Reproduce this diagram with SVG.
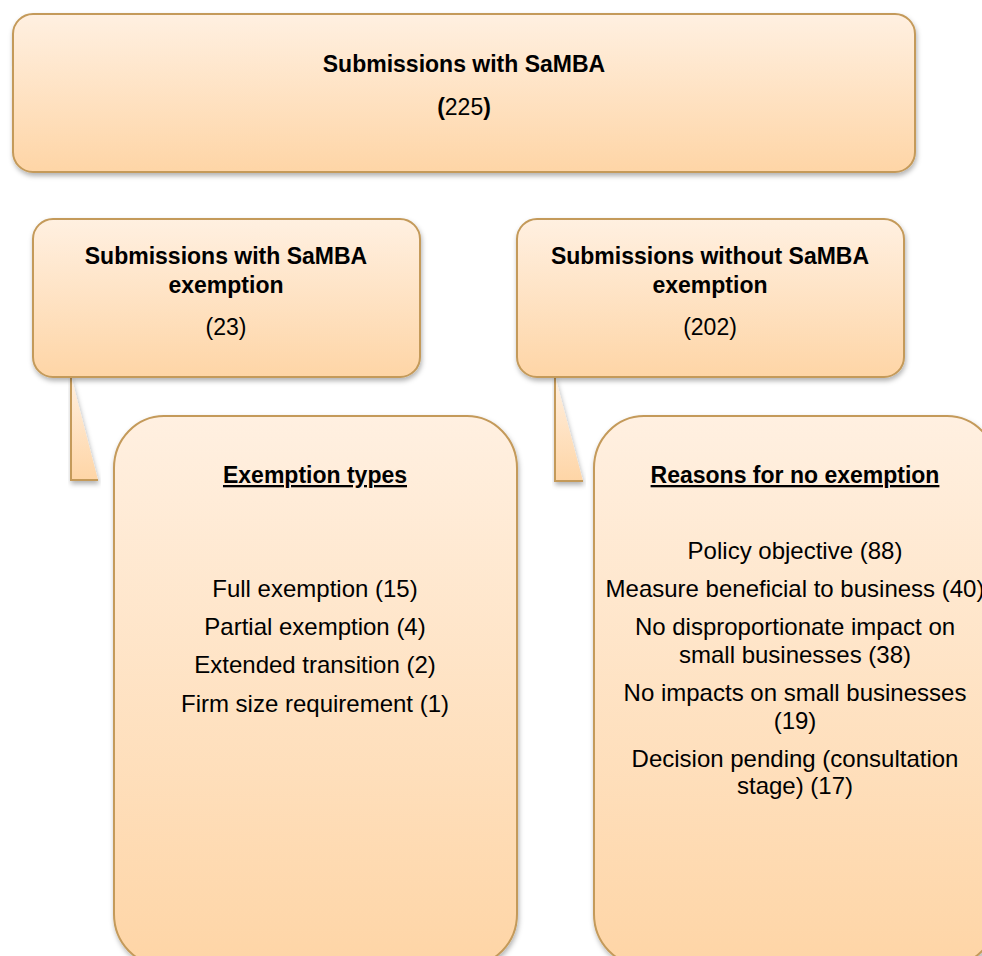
<svg xmlns="http://www.w3.org/2000/svg" width="982" height="956" viewBox="0 0 982 956">
  <style>
    .box { stroke: #c49a5a; stroke-width: 2; filter: url(#shadow); }
    .fill { fill: url(#peach); }
    .edge { fill: none; stroke: #c49a5a; stroke-width: 2; stroke-linejoin: miter; }
    text { font-family: "Liberation Sans", Arial, sans-serif; fill: #000; text-anchor: middle; }
    .b { font-weight: bold; font-size: 23px; }
    .r { font-size: 24px; }
    .u { text-decoration: underline; }
  </style>
  <defs>
    <linearGradient id="peach" x1="0" y1="0" x2="0" y2="1">
      <stop offset="0" stop-color="#fff0e1"/>
      <stop offset="1" stop-color="#fed5a6"/>
    </linearGradient>
    <filter id="shadow" x="-10%" y="-10%" width="120%" height="130%">
      <feDropShadow dx="1" dy="3" stdDeviation="2.5" flood-color="#000" flood-opacity="0.3"/>
    </filter>
  </defs>

  <!-- callout wedges linking each branch to its detail panel -->
  <g id="connectors">
    <g filter="url(#shadow)">
      <polygon class="fill" points="71,376 98,480 71,480"/>
      <polyline class="edge" points="71,376 71,480 98,480"/>
    </g>
    <g filter="url(#shadow)">
      <polygon class="fill" points="555,376 583,481 555,481"/>
      <polyline class="edge" points="555,376 555,481 583,481"/>
    </g>
  </g>

  <g id="root">
    <rect class="box fill" x="13" y="14" width="902" height="158" rx="20" ry="20"/>
    <text class="b" x="464" y="72">Submissions with SaMBA</text>
    <text x="464" y="115" font-size="23"><tspan font-weight="bold">(</tspan>225<tspan font-weight="bold">)</tspan></text>
  </g>

  <g id="with-exemption">
    <rect class="box fill" x="33" y="219" width="387" height="158" rx="20" ry="20"/>
    <text class="b" x="226" y="264">Submissions with SaMBA</text>
    <text class="b" x="226" y="293">exemption</text>
    <text x="226" y="335" font-size="23">(23)</text>
  </g>

  <g id="without-exemption">
    <rect class="box fill" x="517" y="219" width="387" height="158" rx="20" ry="20"/>
    <text class="b" x="710" y="264">Submissions without SaMBA</text>
    <text class="b" x="710" y="293">exemption</text>
    <text x="710" y="335" font-size="23">(202)</text>
  </g>

  <g id="exemption-types">
    <rect class="box fill" x="114" y="416" width="403" height="550" rx="50" ry="52"/>
    <text class="b u" x="315" y="483">Exemption types</text>
    <text class="r" x="315" y="597">Full exemption (15)</text>
    <text class="r" x="315" y="635">Partial exemption (4)</text>
    <text class="r" x="315" y="673">Extended transition (2)</text>
    <text class="r" x="315" y="712">Firm size requirement (1)</text>
  </g>

  <g id="no-exemption-reasons">
    <rect class="box fill" x="594" y="416" width="403" height="550" rx="50" ry="52"/>
    <text class="b u" x="795" y="483">Reasons for no exemption</text>
    <text class="r" x="795" y="559">Policy objective (88)</text>
    <text class="r" x="795" y="597">Measure beneficial to business (40)</text>
    <text class="r" x="795" y="635">No disproportionate impact on</text>
    <text class="r" x="795" y="663">small businesses (38)</text>
    <text class="r" x="795" y="701">No impacts on small businesses</text>
    <text class="r" x="795" y="729">(19)</text>
    <text class="r" x="795" y="767">Decision pending (consultation</text>
    <text class="r" x="795" y="794">stage) (17)</text>
  </g>
</svg>
